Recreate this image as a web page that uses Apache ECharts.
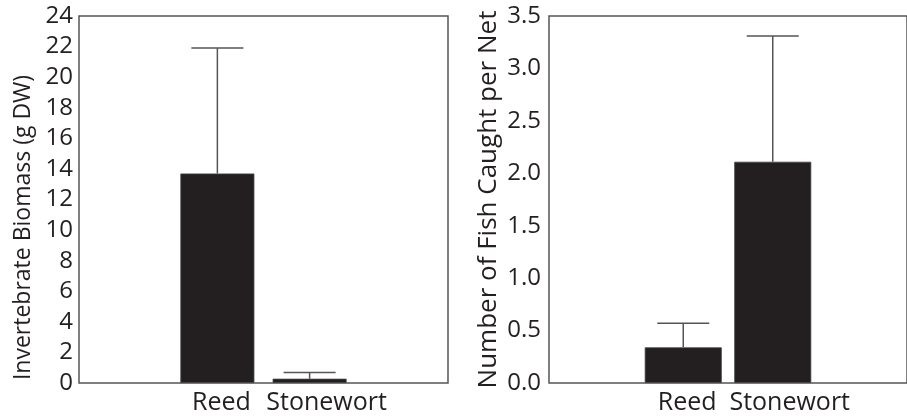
<!DOCTYPE html>
<html>
<head>
<meta charset="utf-8">
<script src="https://cdn.jsdelivr.net/npm/echarts@6/dist/echarts.min.js"></script>
<style>
  html, body { margin: 0; padding: 0; background: #fff; }
  #chart { width: 907px; height: 417px; }
</style>
</head>
<body>
<div id="chart"></div>
<script>
// Habitat groups shown in both panels
const groups = ['Reed', 'Stonewort'];

// Panel A: invertebrate biomass (g DW), mean and upper error
const biomassMean = [13.7, 0.28];
const biomassErr = [8.2, 0.41];

// Panel B: fish caught per net, mean and upper error
const fishMean = [0.34, 2.11];
const fishErr = [0.23, 1.20];

// Y-axis ranges / tick steps
const biomassAxis = { min: 0, max: 24, interval: 2 };
const fishAxis = { min: 0, max: 3.5, interval: 0.5 };

const INK = '#231f20';
const FRAME = '#555';
const FONT = 'Open Sans';

// Padded category list so the two bars sit together in the middle of the frame;
// the group names are nudged right so they read as one caption under the pair
const labelNudge = [8, 34];
const cats = [''].concat(
  groups.map((g, i) => ({ value: g, textStyle: { padding: [0, 0, 0, labelNudge[i]] } })),
  ['']
);
const pad = arr => [null].concat(arr, [null]);
const errData = (mean, err) => mean.map((m, i) => [i + 1, m, m + err[i]]);

function errorBars(xAxisIndex, yAxisIndex, data) {
  return {
    type: 'custom',
    xAxisIndex, yAxisIndex,
    data,
    z: 5,
    renderItem(params, api) {
      const x = api.value(0);
      const lo = api.coord([x, api.value(1)]);
      const hi = api.coord([x, api.value(2)]);
      const half = 26;
      const style = { stroke: FRAME, lineWidth: 1.5 };
      return {
        type: 'group',
        children: [
          { type: 'line', shape: { x1: lo[0], y1: lo[1], x2: hi[0], y2: hi[1] }, style },
          { type: 'line', shape: { x1: hi[0] - half, y1: hi[1], x2: hi[0] + half, y2: hi[1] }, style }
        ]
      };
    }
  };
}

const text = size => ({ color: INK, fontFamily: FONT, fontSize: size });

function yAxis(gridIndex, range, name, nameSize, nameGap, namePad, fmt, margin) {
  return Object.assign({
    type: 'value',
    gridIndex,
    name,
    nameLocation: 'middle',
    nameGap,
    nameTextStyle: Object.assign({ padding: namePad }, text(nameSize)),
    axisLine: { show: false },
    axisTick: { show: false },
    splitLine: { show: false },
    axisLabel: Object.assign({ margin, formatter: fmt }, text(24))
  }, range);
}

function xAxis(gridIndex) {
  return {
    type: 'category',
    gridIndex,
    data: cats,
    axisLine: { show: false },
    axisTick: { show: false },
    axisLabel: Object.assign({ margin: 7, interval: 0 }, text(25))
  };
}

const chart = echarts.init(document.getElementById('chart'), null, { renderer: 'canvas' });

chart.setOption({
  animation: false,
  backgroundColor: '#fff',
  grid: [
    { left: 79, top: 16, width: 369, height: 367, show: true, borderColor: FRAME, borderWidth: 1.5, backgroundColor: 'transparent' },
    { left: 549, top: 16, width: 371, height: 367, show: true, borderColor: FRAME, borderWidth: 1.5, backgroundColor: 'transparent' }
  ],
  xAxis: [xAxis(0), xAxis(1)],
  yAxis: [
    yAxis(0, biomassAxis, 'Invertebrate Biomass (g DW)', 23, 44, [0, 56, 0, 0], v => String(v), 6),
    yAxis(1, fishAxis, 'Number of Fish Caught per Net', 26, 47, [0, 0, 0, 0], v => v.toFixed(1), 8)
  ],
  series: [
    {
      type: 'bar', xAxisIndex: 0, yAxisIndex: 0,
      data: pad(biomassMean), barWidth: 74,
      itemStyle: { color: INK, borderColor: '#444', borderWidth: 0.8 }
    },
    errorBars(0, 0, errData(biomassMean, biomassErr)),
    {
      type: 'bar', xAxisIndex: 1, yAxisIndex: 1,
      data: pad(fishMean), barWidth: 77,
      itemStyle: { color: INK, borderColor: '#444', borderWidth: 0.8 }
    },
    errorBars(1, 1, errData(fishMean, fishErr))
  ]
});
</script>
</body>
</html>
